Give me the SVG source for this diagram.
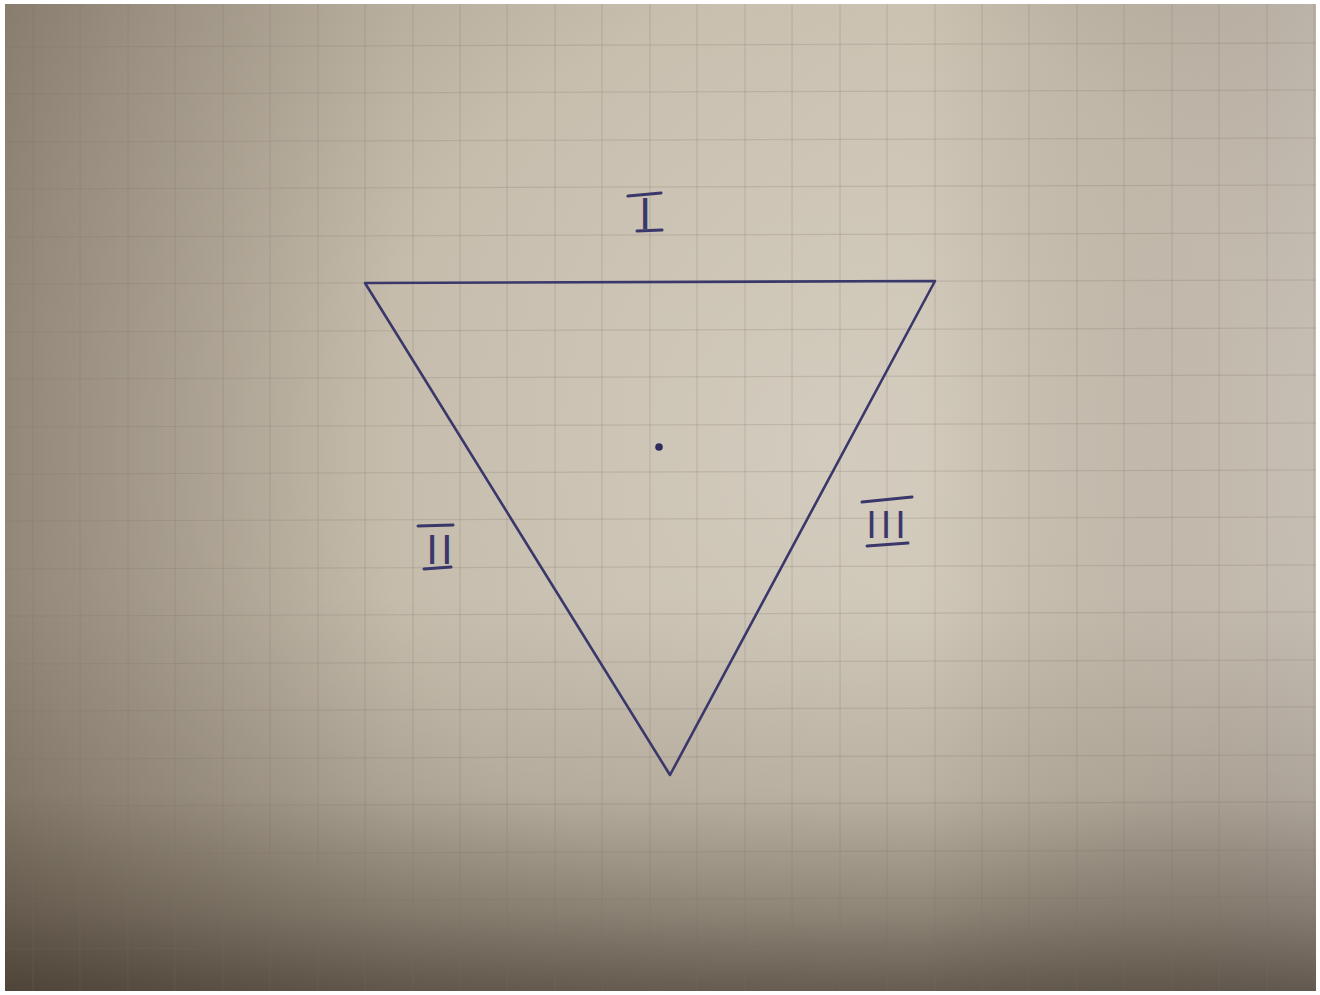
<svg xmlns="http://www.w3.org/2000/svg" width="1320" height="995" viewBox="0 0 1320 995">
  <defs>
    <radialGradient id="paper" cx="820" cy="450" r="1000" gradientUnits="userSpaceOnUse">
      <stop offset="0" stop-color="#d4cdbf"/>
      <stop offset="0.45" stop-color="#cbc2b2"/>
      <stop offset="0.8" stop-color="#ada393"/>
      <stop offset="1" stop-color="#958b7b"/>
    </radialGradient>
    <linearGradient id="shadeBottom" x1="0" y1="0" x2="0" y2="1">
      <stop offset="0" stop-color="#2e241a" stop-opacity="0"/>
      <stop offset="0.6" stop-color="#2e241a" stop-opacity="0"/>
      <stop offset="0.8" stop-color="#2e241a" stop-opacity="0.12"/>
      <stop offset="0.92" stop-color="#2e241a" stop-opacity="0.38"/>
      <stop offset="1" stop-color="#2e241a" stop-opacity="0.62"/>
    </linearGradient>
    <linearGradient id="shadeLeft" x1="0" y1="0" x2="1" y2="0">
      <stop offset="0" stop-color="#3a2e22" stop-opacity="0.22"/>
      <stop offset="0.3" stop-color="#3a2e22" stop-opacity="0.04"/>
      <stop offset="0.7" stop-color="#3a2e22" stop-opacity="0"/>
      <stop offset="1" stop-color="#c4bec0" stop-opacity="0.3"/>
    </linearGradient>
    <style>
      .grid line { stroke: #7a7064; stroke-opacity: 0.22; stroke-width: 1.2; }
      .ink { stroke: #3a386a; stroke-width: 2.6; fill: none; stroke-linecap: round; stroke-linejoin: round; }
      .bar { stroke: #3a386a; stroke-width: 3; stroke-linecap: round; }
      .num { font-family: "Liberation Sans", Arial, sans-serif; fill: #3a386a; text-anchor: middle; }
    </style>
  </defs>

  <rect x="0" y="0" width="1320" height="995" fill="#ffffff"/>
  <g id="photo">
    <rect x="5" y="4" width="1311" height="987" fill="url(#paper)"/>
    <rect x="5" y="4" width="1311" height="987" fill="url(#shadeLeft)"/>
    <rect x="5" y="4" width="1311" height="987" fill="url(#shadeBottom)"/>
  </g>

  <g id="grid" class="grid">
    <line x1="33" y1="4" x2="33" y2="991"/>
    <line x1="80" y1="4" x2="80" y2="991"/>
    <line x1="128" y1="4" x2="128" y2="991"/>
    <line x1="175" y1="4" x2="175" y2="991"/>
    <line x1="223" y1="4" x2="223" y2="991"/>
    <line x1="270" y1="4" x2="270" y2="991"/>
    <line x1="318" y1="4" x2="318" y2="991"/>
    <line x1="365" y1="4" x2="365" y2="991"/>
    <line x1="413" y1="4" x2="413" y2="991"/>
    <line x1="460" y1="4" x2="460" y2="991"/>
    <line x1="507" y1="4" x2="507" y2="991"/>
    <line x1="555" y1="4" x2="555" y2="991"/>
    <line x1="602" y1="4" x2="602" y2="991"/>
    <line x1="650" y1="4" x2="650" y2="991"/>
    <line x1="697" y1="4" x2="697" y2="991"/>
    <line x1="745" y1="4" x2="745" y2="991"/>
    <line x1="792" y1="4" x2="792" y2="991"/>
    <line x1="840" y1="4" x2="840" y2="991"/>
    <line x1="887" y1="4" x2="887" y2="991"/>
    <line x1="935" y1="4" x2="935" y2="991"/>
    <line x1="982" y1="4" x2="982" y2="991"/>
    <line x1="1029" y1="4" x2="1029" y2="991"/>
    <line x1="1077" y1="4" x2="1077" y2="991"/>
    <line x1="1124" y1="4" x2="1124" y2="991"/>
    <line x1="1172" y1="4" x2="1172" y2="991"/>
    <line x1="1219" y1="4" x2="1219" y2="991"/>
    <line x1="1267" y1="4" x2="1267" y2="991"/>
    <line x1="1314" y1="4" x2="1314" y2="991"/>
    <line x1="5" y1="47" x2="1316" y2="43"/>
    <line x1="5" y1="94" x2="1316" y2="90"/>
    <line x1="5" y1="142" x2="1316" y2="138"/>
    <line x1="5" y1="189" x2="1316" y2="185"/>
    <line x1="5" y1="237" x2="1316" y2="233"/>
    <line x1="5" y1="284" x2="1316" y2="280"/>
    <line x1="5" y1="332" x2="1316" y2="328"/>
    <line x1="5" y1="379" x2="1316" y2="375"/>
    <line x1="5" y1="427" x2="1316" y2="423"/>
    <line x1="5" y1="474" x2="1316" y2="470"/>
    <line x1="5" y1="521" x2="1316" y2="517"/>
    <line x1="5" y1="569" x2="1316" y2="565"/>
    <line x1="5" y1="616" x2="1316" y2="612"/>
    <line x1="5" y1="664" x2="1316" y2="660"/>
    <line x1="5" y1="711" x2="1316" y2="707"/>
    <line x1="5" y1="759" x2="1316" y2="755"/>
    <line x1="5" y1="806" x2="1316" y2="802"/>
    <line x1="5" y1="854" x2="1316" y2="850"/>
    <line x1="5" y1="901" x2="1316" y2="897"/>
    <line x1="5" y1="949" x2="1316" y2="945"/>
  </g>

  <g id="triangle">
    <polygon class="ink" points="365,283 935,281 670,775"/>
  </g>

  <g id="centre-point">
    <circle cx="659" cy="447" r="3.8" fill="#2e2c5c"/>
  </g>

  <g id="label-I">
    <line class="bar" x1="628" y1="196" x2="661" y2="193"/>
    <text class="num" x="645" y="229" font-size="44">I</text>
    <line class="bar" x1="637" y1="231" x2="662" y2="230"/>
  </g>

  <g id="label-II">
    <line class="bar" x1="418" y1="526" x2="453" y2="525"/>
    <text class="num" x="441" y="564" font-size="42" letter-spacing="3">II</text>
    <line class="bar" x1="424" y1="569" x2="451" y2="567"/>
  </g>

  <g id="label-III">
    <line class="bar" x1="862" y1="502" x2="912" y2="497"/>
    <text class="num" x="888" y="538" font-size="38" letter-spacing="4">III</text>
    <line class="bar" x1="867" y1="546" x2="908" y2="543"/>
  </g>
</svg>
